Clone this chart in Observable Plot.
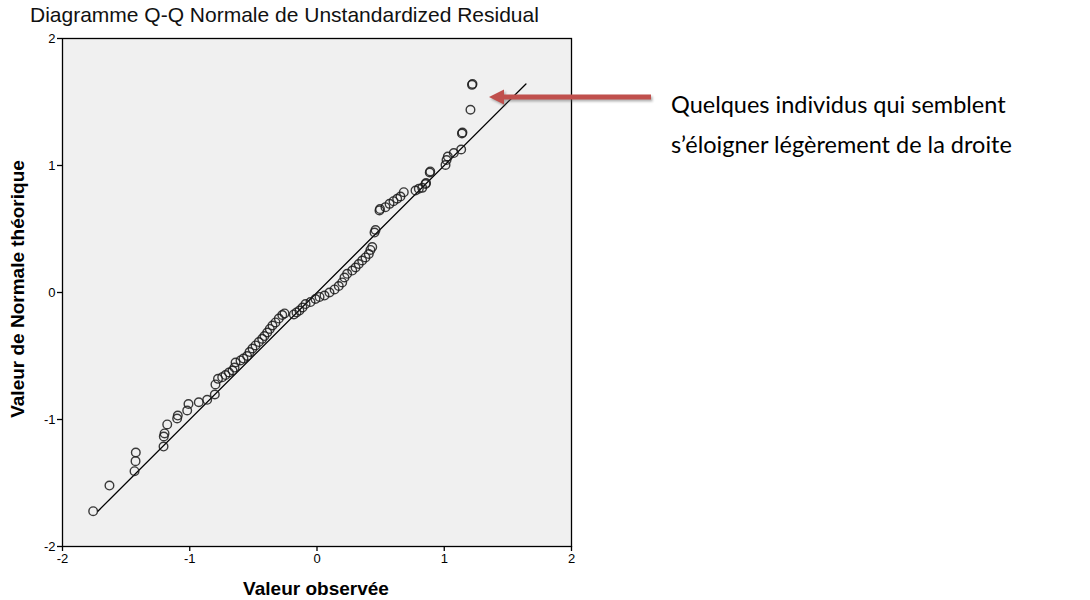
<!DOCTYPE html>
<html><head><meta charset="utf-8">
<script src="https://cdn.jsdelivr.net/npm/d3@7"></script>
<script src="https://cdn.jsdelivr.net/npm/@observablehq/plot@0.6"></script>
<style>
body{margin:0;background:#fff;}
#wrap{position:relative;width:1090px;height:600px;overflow:hidden;}
.t{position:absolute;white-space:nowrap;}
#title{left:30px;top:3px;font:21px 'Liberation Sans',Arial,sans-serif;color:#111;}
#xlab{left:316px;top:578px;transform:translateX(-50%);font:bold 19px 'Liberation Sans',Arial,sans-serif;}
#ylab{left:18px;top:289px;transform:translate(-50%,-50%) rotate(-90deg);font:bold 19px 'Liberation Sans',Arial,sans-serif;}
#note{left:671px;top:84px;font:23.5px Lato,'Noto Sans',sans-serif;line-height:40px;color:#000;}
#arrow{position:absolute;left:0;top:0;}
</style></head><body><div id="wrap"></div>
<script>
// Observed residuals (x) and expected normal values (y)
const observed = [-1.759,-1.631,-1.434,-1.426,-1.424,-1.206,-1.204,-1.198,-1.177,-1.099,-1.094,-1.020,-1.010,-0.929,-0.863,-0.803,-0.798,-0.778,-0.745,-0.719,-0.692,-0.664,-0.648,-0.640,-0.601,-0.578,-0.549,-0.530,-0.507,-0.483,-0.457,-0.431,-0.413,-0.391,-0.371,-0.350,-0.326,-0.300,-0.273,-0.255,-0.182,-0.161,-0.138,-0.114,-0.090,-0.051,-0.012,0.020,0.059,0.098,0.138,0.171,0.198,0.216,0.237,0.277,0.303,0.328,0.355,0.381,0.407,0.420,0.434,0.452,0.460,0.491,0.495,0.538,0.570,0.601,0.630,0.656,0.682,0.774,0.800,0.827,0.853,0.857,0.886,0.890,1.010,1.018,1.028,1.075,1.133,1.139,1.143,1.206,1.218,1.222];
const theoretical = [-1.722,-1.520,-1.407,-1.328,-1.260,-1.213,-1.134,-1.110,-1.039,-0.992,-0.969,-0.929,-0.878,-0.864,-0.845,-0.803,-0.724,-0.680,-0.667,-0.650,-0.630,-0.614,-0.591,-0.551,-0.535,-0.520,-0.500,-0.469,-0.441,-0.417,-0.390,-0.365,-0.343,-0.315,-0.287,-0.260,-0.236,-0.205,-0.177,-0.165,-0.173,-0.157,-0.142,-0.118,-0.091,-0.075,-0.051,-0.035,-0.024,0.000,0.024,0.051,0.079,0.118,0.147,0.173,0.197,0.224,0.252,0.276,0.303,0.335,0.358,0.472,0.492,0.646,0.657,0.672,0.698,0.719,0.738,0.756,0.790,0.803,0.817,0.824,0.854,0.862,0.945,0.953,1.004,1.043,1.071,1.098,1.126,1.252,1.260,1.439,1.635,1.642];
const xTicks = [-2,-1,0,1,2];
const yTicks = [-2,-1,0,1,2];
const title = "Diagramme Q-Q Normale de Unstandardized Residual";
const xLabel = "Valeur observée";
const yLabel = "Valeur de Normale théorique";
const noteLines = ["Quelques individus qui semblent","s’éloigner légèrement de la droite"];

const points = observed.map((x,i)=>({x, y: theoretical[i]}));
const [lo, hi] = d3.extent(theoretical);
const refLine = [{x:lo,y:lo},{x:hi,y:hi}];

const chart = Plot.plot({
  width:1090, height:600,
  marginLeft:62, marginRight:519, marginTop:38, marginBottom:54,
  style:{fontFamily:"'Liberation Sans', Arial, sans-serif", fontSize:"13px", color:"#000", background:"transparent", overflow:"visible"},
  x:{domain:[-2,2]},
  y:{domain:[-2,2]},
  marks:[
    Plot.frame({fill:"#f0f0f0", stroke:null}),
    Plot.line(refLine,{x:"x",y:"y",stroke:"#000",strokeWidth:1.3}),
    Plot.dot(points,{x:"x",y:"y",r:4.3,stroke:"#1a1a1a",strokeOpacity:0.85,strokeWidth:1.4,fill:"none"}),
    Plot.frame({stroke:"#000",strokeWidth:1.3}),
    Plot.axisX({ticks:xTicks,tickSize:5,tickPadding:2,tickFormat:d=>String(d),label:null,strokeWidth:1.3}),
    Plot.axisY({ticks:yTicks,tickSize:5,tickPadding:2,tickFormat:d=>String(d),label:null,strokeWidth:1.3})
  ]
});
const wrap = document.getElementById("wrap");
wrap.appendChild(chart);

function addText(id, html){const d=document.createElement("div");d.className="t";d.id=id;d.innerHTML=html;wrap.appendChild(d);}
addText("title", title);
addText("xlab", xLabel);
addText("ylab", yLabel);
addText("note", noteLines.join("<br>"));

// annotation arrow (overlay)
const ns="http://www.w3.org/2000/svg";
const a=document.createElementNS(ns,"svg");
a.setAttribute("id","arrow");a.setAttribute("width","1090");a.setAttribute("height","600");
a.innerHTML=`<defs><filter id="sh" x="-10%" y="-50%" width="120%" height="200%"><feGaussianBlur stdDeviation="1.2"/></filter></defs>
<g filter="url(#sh)" opacity="0.45" transform="translate(1.5,2)"><rect x="500" y="94.5" width="151" height="5" fill="#555"/><polygon points="489,97 504,89.5 504,104.5" fill="#555"/></g>
<rect x="500" y="94.5" width="151" height="5" fill="#c0504d"/><polygon points="489,97 504,89.5 504,104.5" fill="#c0504d"/>`;
wrap.appendChild(a);
</script></body></html>
